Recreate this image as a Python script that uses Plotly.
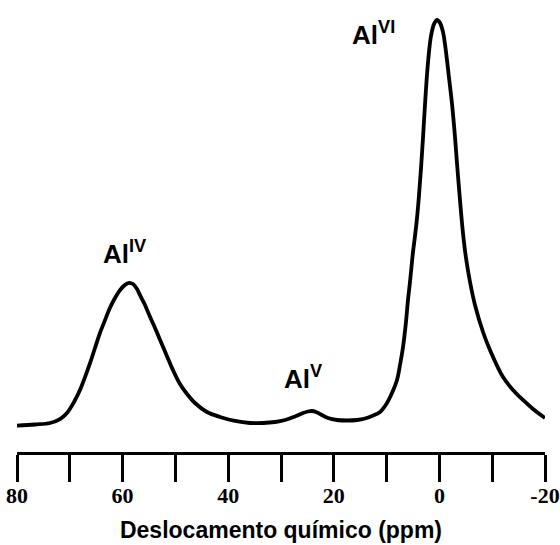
import plotly.graph_objects as go

# chemical shift (ppm) and intensity (arbitrary units, peak AlVI = 100)
shift_ppm = [80.0, 76.59, 73.75, 71.86, 70.53, 69.2, 68.07, 67.12, 66.17, 65.23,
             64.28, 63.33, 62.39, 61.44, 60.49, 59.55, 58.79, 58.03, 57.27, 56.7,
             55.76, 54.81, 53.86, 52.92, 51.59, 50.45, 49.13, 47.8, 46.29, 44.02,
             41.55, 38.71, 35.87, 33.41, 31.14, 29.24, 27.35, 25.83, 24.89, 24.13,
             23.37, 22.61, 21.1, 19.39, 17.5, 15.61, 14.09, 12.77,
             11.25, 9.92, 8.98, 8.03, 7.46, 6.89, 6.33, 5.95, 5.57, 5.0,
             4.62, 4.24, 3.86, 3.48, 3.11, 2.73, 2.35, 1.97, 1.59, 1.02,
             0.45, -0.11, -0.68, -1.06, -1.44, -1.82, -2.39, -2.95, -3.33, -3.9,
             -4.47, -5.04, -5.8, -6.74, -8.26, -9.58, -12.05, -13.94, -15.83, -17.73,
             -20.0]
intensity = [1.05, 1.34, 1.71, 2.68, 4.15, 6.83, 9.76, 12.9, 16.3, 20.0,
             23.7, 26.8, 29.8, 32.2, 34.1, 35.4, 35.9, 35.6, 34.4, 32.9,
             30.5, 27.6, 24.9, 22.0, 18.0, 14.6, 11.2, 8.78, 6.59, 4.39,
             3.17, 2.2, 1.71, 1.71, 1.95, 2.44, 3.29, 4.15, 4.51, 4.63,
             4.39, 3.9, 2.93, 2.44, 2.32, 2.44, 2.8, 3.41,
             4.39, 6.59, 9.02, 12.2, 15.85, 20.24, 26.34, 31.71, 36.1, 43.4,
             47.3, 51.7, 57.3, 63.9, 71.2, 79.3, 86.6, 92.2, 96.1, 99.0,
             100.0, 99.3, 97.1, 94.1, 90.2, 85.9, 79.5, 71.5, 65.1, 56.1,
             48.0, 41.95, 36.1, 30.5, 23.9, 19.5, 12.9, 9.76, 7.32, 5.12,
             2.93]

major_ticks = [80, 60, 40, 20, 0, -20]
major_text = ["80", "60", "40", "20", "0", "-20"]

peak_labels = ["IV", "V", "VI"]
label_x = [59.7, 25.8, 12.4]
label_y = [43.4, 12.7, 96.8]

fig = go.Figure()
fig.add_trace(go.Scatter(
    x=shift_ppm, y=intensity, mode="lines",
    line=dict(color="black", width=3.8, shape="spline", smoothing=1.0),
    hoverinfo="skip", showlegend=False))

for lab, lx, ly in zip(peak_labels, label_x, label_y):
    fig.add_annotation(
        x=lx, y=ly, xref="x", yref="y", showarrow=False,
        text="<b>Al<sup>" + lab + "</sup></b>",
        font=dict(family="Liberation Sans", size=26, color="black"))

fig.update_xaxes(
    range=[80, -20], showgrid=False, zeroline=False,
    showline=True, linecolor="black", linewidth=3,
    ticks="outside", ticklen=27, tickwidth=3, tickcolor="black",
    tickvals=major_ticks, ticktext=major_text,
    ticklabelstandoff=-5,
    tickfont=dict(family="Liberation Serif", size=22, color="black", weight="bold"),
    minor=dict(dtick=10, tick0=0, ticks="outside", ticklen=27, tickwidth=3,
               tickcolor="black", showgrid=False),
    title=dict(text="Deslocamento químico (ppm)",
               font=dict(family="Liberation Sans", size=23, color="black", weight="bold"),
               standoff=15))
fig.update_yaxes(range=[-5.366, 104.88], visible=False, showgrid=False, zeroline=False)

fig.update_layout(
    width=560, height=545,
    margin=dict(l=17, r=15, t=0, b=93),
    paper_bgcolor="white", plot_bgcolor="white")

fig.write_html("out.html")
